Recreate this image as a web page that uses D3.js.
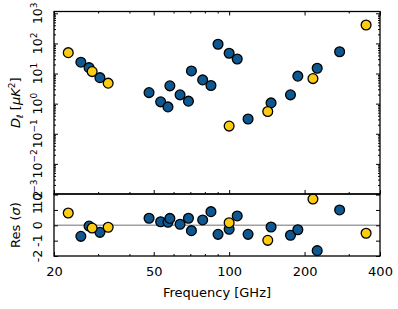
<!DOCTYPE html>
<html>
<head>
<meta charset="utf-8">
<script src="https://cdn.jsdelivr.net/npm/d3@7"></script>
<style>
body { margin: 0; background: #fff; }
svg { font-family: "DejaVu Sans", sans-serif; }
</style>
</head>
<body>
<div id="graph"></div>
<script>
// blue points: frequency (GHz), D_ell (uK^2), residual (sigma)
var blueFreq = [25.6, 27.6, 30.5, 47.9, 53.3, 57, 58, 63.7, 68.8, 70.7, 78.4, 84.6, 90.3, 100, 107.7, 119, 147, 175.7, 188, 224.6, 276];
var blueDl = [23.8, 15.7, 7.3, 2.33, 1.15, 0.78, 3.9, 1.96, 1.21, 12.2, 6.15, 4.0, 94, 47, 30.5, 0.31, 1.06, 1.96, 8.2, 15.0, 53];
var blueRes = [-0.72, -0.05, -0.46, 0.46, 0.23, 0.2, 0.45, 0.07, 0.46, -0.35, 0.35, 0.89, -0.59, -0.26, 0.61, -0.59, -0.11, -0.65, -0.29, -1.65, 1.0];

// yellow points
var yellowFreq = [22.8, 28.4, 32.9, 100, 142.6, 216, 352];
var yellowDl = [49.4, 11.6, 4.8, 0.18, 0.55, 6.8, 409];
var yellowRes = [0.80, -0.18, -0.13, 0.17, -0.98, 1.71, -0.52];

// ticks
var xTicks = [20, 50, 100, 200, 400];
var xMinorTicks = [30, 40, 60, 70, 80, 90, 300];
var dlExponents = [-3, -2, -1, 0, 1, 2, 3];
var resTicks = [-2, -1, 0, 1, 2];

var blue = blueFreq.map(function(f, i) { return {freq: f, dl: blueDl[i], res: blueRes[i]}; });
var yellow = yellowFreq.map(function(f, i) { return {freq: f, dl: yellowDl[i], res: yellowRes[i]}; });

var totalWidth = 398, totalHeight = 309,
    left = 54, right = 380,
    top1 = 11.5, bottom1 = 194, bottom2 = 256;

var x = d3.scaleLog().domain([20, 400]).range([left, right]);
var yDl = d3.scaleLog().domain([1e-3, Math.pow(10, 3.06)]).range([bottom1, top1]);
var yRes = d3.scaleLinear().domain([-2, 2]).range([bottom2, bottom1 + 0.6]);

var svg = d3.select("#graph").append("svg")
    .attr("width", totalWidth)
    .attr("height", totalHeight);

// zero line in residual panel
svg.append("line")
    .attr("x1", left).attr("x2", right)
    .attr("y1", yRes(0)).attr("y2", yRes(0))
    .attr("stroke", "#a0a0a0")
    .attr("stroke-width", 1.5);

// x ticks (inward) on each horizontal edge
function xTickAxis(axisFn, yPos, values, size) {
    var g = svg.append("g")
        .attr("transform", "translate(0," + yPos + ")")
        .call(axisFn(x).tickValues(values).tickSize(size).tickFormat(""));
    g.select(".domain").remove();
    g.selectAll("line").attr("stroke-width", 1);
    return g;
}
xTickAxis(d3.axisBottom, top1, xTicks, 4);
xTickAxis(d3.axisBottom, top1, xMinorTicks, 2);
xTickAxis(d3.axisTop, bottom1, xTicks, 4);
xTickAxis(d3.axisTop, bottom1, xMinorTicks, 2);
xTickAxis(d3.axisTop, bottom2, xTicks, 4);
xTickAxis(d3.axisTop, bottom2, xMinorTicks, 2);

// x tick labels
var xLabels = svg.append("g")
    .attr("transform", "translate(0," + bottom2 + ")")
    .call(d3.axisBottom(x).tickValues(xTicks).tickSize(0).tickPadding(11).tickFormat(d3.format("d")));
xLabels.select(".domain").remove();
xLabels.selectAll("text")
    .attr("font-family", "DejaVu Sans")
    .attr("font-size", 13)
    .attr("fill", "#000");

// y ticks, upper panel
var dlMajor = dlExponents.map(function(e) { return Math.pow(10, e); });
var dlMinor = yDl.ticks().filter(function(v) {
    var l = Math.log10(v);
    return Math.abs(l - Math.round(l)) > 1e-6;
});
[[d3.axisLeft, left], [d3.axisRight, right]].forEach(function(side) {
    [[dlMajor, 4], [dlMinor, 2]].forEach(function(t) {
        var g = svg.append("g")
            .attr("transform", "translate(" + side[1] + ",0)")
            .call(side[0](yDl).tickValues(t[0]).tickSize(-t[1]).tickFormat(""));
        g.select(".domain").remove();
    });
});

// y tick labels, upper panel (rotated 10^n)
dlExponents.forEach(function(e) {
    var t = svg.append("text")
        .attr("transform", "translate(" + (left - 12) + "," + yDl(Math.pow(10, e)) + ") rotate(-90)")
        .attr("text-anchor", "middle")
        .attr("font-size", 12.5)
        .attr("fill", "#000");
    t.append("tspan").text("10");
    t.append("tspan")
        .attr("font-size", 9)
        .attr("dy", -5)
        .text(e < 0 ? "\u2212" + (-e) : e);
});

// y ticks, residual panel
[[d3.axisLeft, left], [d3.axisRight, right]].forEach(function(side) {
    var g = svg.append("g")
        .attr("transform", "translate(" + side[1] + ",0)")
        .call(side[0](yRes).tickValues(resTicks).tickSize(-4).tickFormat(""));
    g.select(".domain").remove();
});
resTicks.forEach(function(v) {
    svg.append("text")
        .attr("transform", "translate(" + (left - 12) + "," + yRes(v) + ") rotate(-90)")
        .attr("text-anchor", "middle")
        .attr("font-size", 12.5)
        .attr("fill", "#000")
        .text(v < 0 ? "-" + (-v) : v);
});

// points
[[blue, "#0d5891", "Dl"], [yellow, "#fdcb12", "Dl"]].forEach(function(s) {
    svg.append("g").selectAll("circle")
        .data(s[0])
        .enter().append("circle")
        .attr("cx", function(d) { return x(d.freq); })
        .attr("cy", function(d) { return yDl(d.dl); })
        .attr("r", 4.9)
        .attr("fill", s[1])
        .attr("stroke", "#000")
        .attr("stroke-width", 1.3);
});
[[blue, "#0d5891"], [yellow, "#fdcb12"]].forEach(function(s) {
    svg.append("g").selectAll("circle")
        .data(s[0])
        .enter().append("circle")
        .attr("cx", function(d) { return x(d.freq); })
        .attr("cy", function(d) { return yRes(d.res); })
        .attr("r", 4.9)
        .attr("fill", s[1])
        .attr("stroke", "#000")
        .attr("stroke-width", 1.3);
});

// frames
svg.append("rect")
    .attr("x", left).attr("y", top1)
    .attr("width", right - left).attr("height", bottom1 - top1)
    .attr("fill", "none").attr("stroke", "#000").attr("stroke-width", 1.3);
svg.append("rect")
    .attr("x", left).attr("y", bottom1)
    .attr("width", right - left).attr("height", bottom2 - bottom1)
    .attr("fill", "none").attr("stroke", "#000").attr("stroke-width", 1.3);

// axis titles
svg.append("text")
    .attr("x", (left + right) / 2)
    .attr("y", 297)
    .attr("text-anchor", "middle")
    .attr("font-size", 13)
    .text("Frequency [GHz]");

var dlTitle = svg.append("text")
    .attr("transform", "translate(20," + (top1 + bottom1) / 2 + ") rotate(-90)")
    .attr("text-anchor", "middle")
    .attr("font-size", 13);
dlTitle.append("tspan").attr("font-style", "italic").text("D");
dlTitle.append("tspan").attr("font-size", 9).attr("font-style", "italic").attr("dy", 3).text("\u2113");
dlTitle.append("tspan").attr("dy", -3).text(" [");
dlTitle.append("tspan").attr("font-style", "italic").text("\u03bcK");
dlTitle.append("tspan").attr("font-size", 9).attr("dy", -5).text("2");
dlTitle.append("tspan").attr("dy", 5).text("]");

var resTitle = svg.append("text")
    .attr("transform", "translate(20," + (bottom1 + bottom2) / 2 + ") rotate(-90)")
    .attr("text-anchor", "middle")
    .attr("font-size", 13);
resTitle.append("tspan").text("Res (");
resTitle.append("tspan").attr("font-style", "italic").text("\u03c3");
resTitle.append("tspan").text(")");
</script>
</body>
</html>
